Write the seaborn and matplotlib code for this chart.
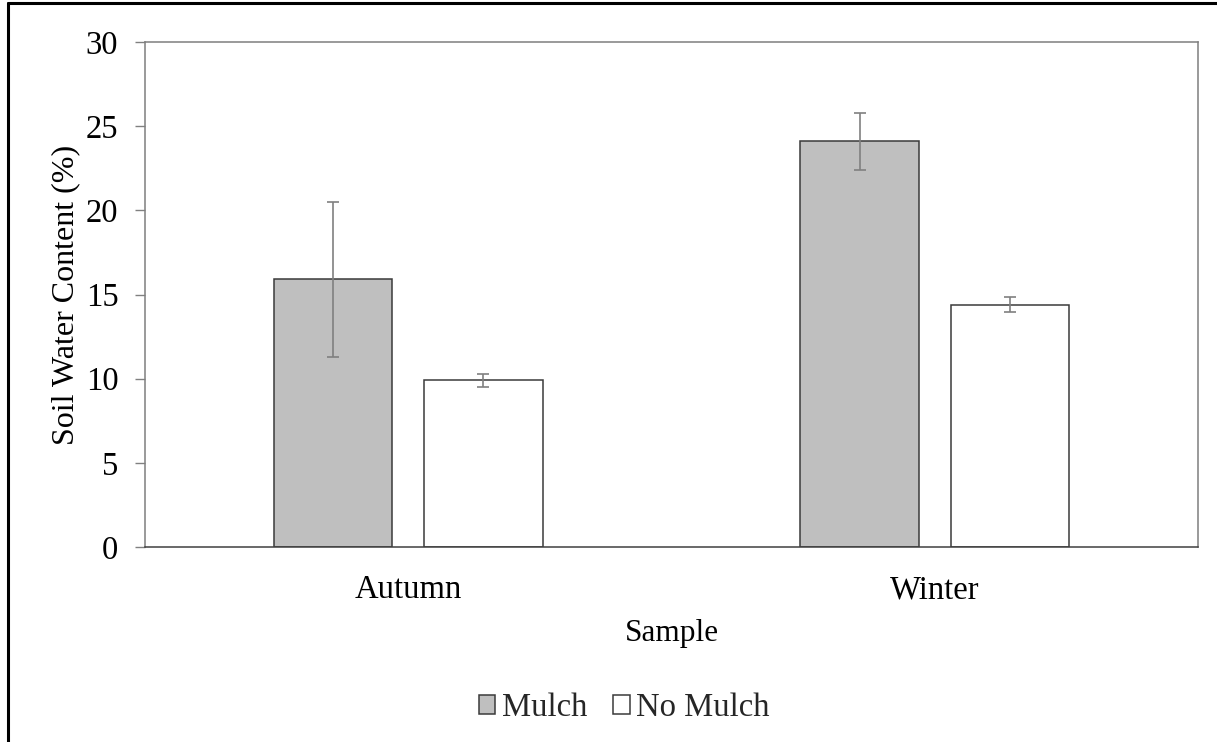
import matplotlib
matplotlib.use("Agg")
import matplotlib.pyplot as plt
from matplotlib.lines import Line2D
import numpy as np
import pandas as pd
import seaborn as sns

# Soil water content by sampling season and treatment
seasons = ["Autumn", "Winter"]
treatments = ["Mulch", "No Mulch"]
mulch_mean = [15.9, 24.1]
mulch_err = [4.6, 1.7]
no_mulch_mean = [9.9, 14.4]
no_mulch_err = [0.4, 0.45]
y_ticks = [0, 5, 10, 15, 20, 25, 30]

df = pd.DataFrame({
    "Sample": seasons * 2,
    "Treatment": [treatments[0]] * 2 + [treatments[1]] * 2,
    "SWC": mulch_mean + no_mulch_mean,
    "err": mulch_err + no_mulch_err,
})

sns.set_theme(style="white")
plt.rcParams["font.family"] = ["Liberation Serif", "DejaVu Serif"]
plt.rcParams["font.size"] = 23

W, H = 1217, 742
fig = plt.figure(figsize=(W / 100, H / 100), dpi=100)
ax = fig.add_axes([145 / W, 1 - 547 / H, (1198 - 145) / W, (547 - 42) / H])

sns.barplot(
    data=df, x="Sample", y="SWC", hue="Treatment",
    order=seasons, hue_order=treatments,
    palette={"Mulch": "#BFBFBF", "No Mulch": "#FFFFFF"},
    edgecolor="#3a3a3a", linewidth=1.1,
    width=0.57, gap=0.21, errorbar=None, legend=False, ax=ax,
)

# error bars centred on the drawn bars
for cont, t in zip(ax.containers, treatments):
    sub = df[df["Treatment"] == t].set_index("Sample").loc[seasons]
    xs = [p.get_x() + p.get_width() / 2 for p in cont.patches]
    ax.errorbar(xs, sub["SWC"].values, yerr=sub["err"].values, fmt="none",
                ecolor="#808080", elinewidth=1.2, capsize=4.3, capthick=1.2,
                zorder=5)

ax.set_ylim(0, 30)
ax.set_yticks(y_ticks)
ax.set_yticklabels([str(v) for v in y_ticks])
ax.set_xlim(-0.5, 1.5)
ax.tick_params(axis="y", which="major", direction="out", length=7.2, width=1,
               color="#808080", left=True, pad=12, labelsize=23.5, labelcolor="black")
ax.tick_params(axis="x", length=0, pad=20, labelsize=23.5, labelcolor="black")
ax.set_ylabel("Soil Water Content (%)", fontsize=23, labelpad=4, color="black")
ax.set_xlabel("Sample", fontsize=22.5, labelpad=10, color="black")

for side in ["left", "top", "right"]:
    ax.spines[side].set_color("#7f7f7f")
    ax.spines[side].set_linewidth(1.1)
ax.spines["bottom"].set_color("#404040")
ax.spines["bottom"].set_linewidth(1.1)

fig.legend(ax.containers, treatments, loc="center", bbox_to_anchor=(0.513, 0.046),
           ncol=2, frameon=False, fontsize=23.5, handlelength=0.5, handleheight=0.5,
           handletextpad=0.2, columnspacing=0.8)

# outer chart border (top and left edges)
fig.add_artist(Line2D([8 / W, 1.0], [1 - 3 / H, 1 - 3 / H],
                      transform=fig.transFigure, color="black", linewidth=2.2))
fig.add_artist(Line2D([8 / W, 8 / W], [0.0, 1 - 3 / H],
                      transform=fig.transFigure, color="black", linewidth=2.2))

fig.savefig("out.png", dpi=100, facecolor="white")
